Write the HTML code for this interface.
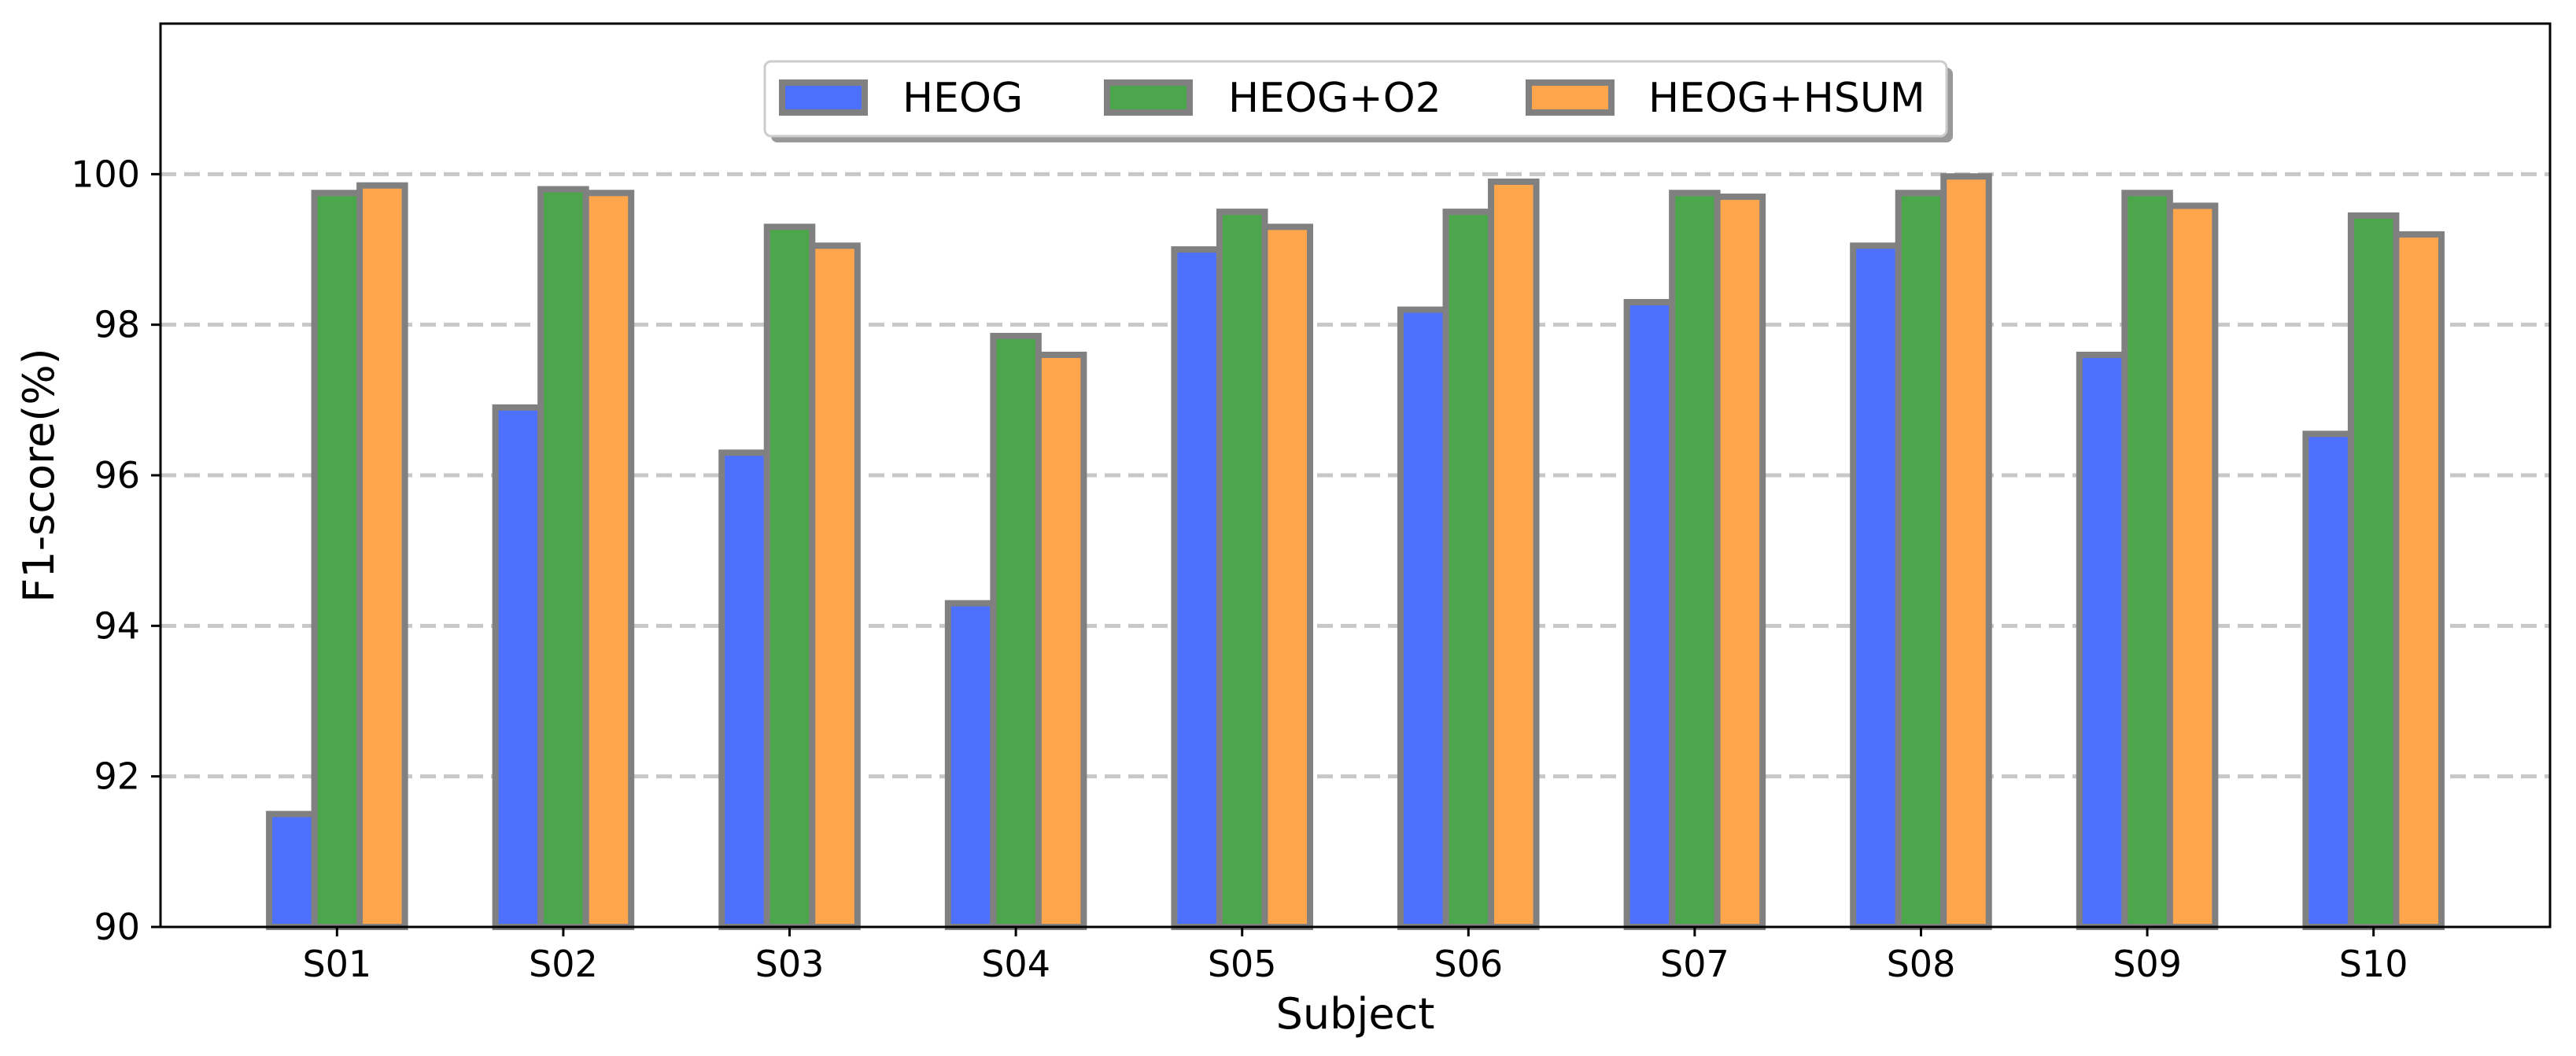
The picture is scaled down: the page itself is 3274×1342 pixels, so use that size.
<!DOCTYPE html>
<html><head><meta charset="utf-8"><style>
html,body{margin:0;padding:0;background:#fff;}
svg{display:block;font-family:"DejaVu Sans","Liberation Sans",sans-serif;}
</style></head><body>
<svg id="chart" width="3274" height="1342" viewBox="0 0 3274 1342" xmlns="http://www.w3.org/2000/svg">
<rect width="3274" height="1342" fill="#fff"/>
<g id="grid"></g>
<g id="bars"></g>
<g id="axes"></g>
<g id="legend"></g>
</svg>
<script>
const categories = ["S01","S02","S03","S04","S05","S06","S07","S08","S09","S10"];
const heog = [91.5, 96.9, 96.3, 94.3, 99.0, 98.2, 98.3, 99.05, 97.6, 96.55];
const heogO2 = [99.75, 99.8, 99.3, 97.85, 99.5, 99.5, 99.75, 99.75, 99.75, 99.45];
const heogHsum = [99.85, 99.75, 99.05, 97.6, 99.3, 99.9, 99.7, 99.97, 99.58, 99.2];
const yTicks = [90, 92, 94, 96, 98, 100];
const seriesNames = ["HEOG","HEOG+O2","HEOG+HSUM"];
const seriesColors = ["#4d70ff","#4ca64c","#ffa64d"];

const NS = "http://www.w3.org/2000/svg";
const L = 204, R = 3241, T = 30, B = 1178;
const xMin = -0.78, xMax = 9.78, yMin = 90, yMax = 102;
const xs = v => L + (v - xMin) / (xMax - xMin) * (R - L);
const ys = v => B - (v - yMin) / (yMax - yMin) * (B - T);
function mk(tag, attrs, parent) {
  const e = document.createElementNS(NS, tag);
  for (const k in attrs) e.setAttribute(k, attrs[k]);
  parent.appendChild(e);
  return e;
}
const grid = document.getElementById('grid');
const bars = document.getElementById('bars');
const axes = document.getElementById('axes');
const legend = document.getElementById('legend');

yTicks.forEach(t => {
  if (t === yMin) return;
  const g = mk('line', {x1: L, x2: R, y1: ys(t), y2: ys(t), stroke: '#c8c8c8', 'stroke-width': 5, 'stroke-dasharray': '20 10'}, grid);
  
  
});

const series = [heog, heogO2, heogHsum];
const bw = 0.2;
series.forEach((vals, si) => {
  vals.forEach((v, ci) => {
    const x0 = xs(ci + (si - 1) * bw - bw / 2);
    const x1 = xs(ci + (si - 1) * bw + bw / 2);
    const r = mk('rect', {x: x0, y: ys(v), width: x1 - x0, height: ys(yMin) - ys(v), fill: seriesColors[si], stroke: '#808080', 'stroke-width': 8}, bars);
    
    
  });
});

const frame = mk('rect', {x: L, y: T, width: R - L, height: B - T, fill: 'none', stroke: '#000', 'stroke-width': 3}, axes);



yTicks.forEach(t => {
  mk('line', {x1: L - 12, x2: L, y1: ys(t), y2: ys(t), stroke: '#000', 'stroke-width': 3}, axes);
  const tx = mk('text', {x: L - 26, y: ys(t) + 16, 'font-size': 46, 'text-anchor': 'end', fill: '#000'}, axes);
  tx.textContent = t;
  
  
});
categories.forEach((c, i) => {
  mk('line', {x1: xs(i), x2: xs(i), y1: B, y2: B + 12, stroke: '#000', 'stroke-width': 3}, axes);
  const tx = mk('text', {x: xs(i), y: 1241, 'font-size': 46, 'text-anchor': 'middle', fill: '#000'}, axes);
  tx.textContent = c;
  
  
});
const xl = mk('text', {x: (L + R) / 2, y: 1307, 'font-size': 54, 'text-anchor': 'middle', fill: '#000'}, axes);
xl.textContent = 'Subject';


const yl = mk('text', {x: 0, y: 0, 'font-size': 54, 'text-anchor': 'middle', fill: '#000', transform: 'translate(68,' + (T + B) / 2 + ') rotate(-90)'}, axes);
yl.textContent = 'F1-score(%)';



// legend
const sh = mk('rect', {x: 980, y: 86, width: 1502, height: 95, rx: 8, fill: '#999'}, legend);


const lb = mk('rect', {x: 972, y: 78, width: 1502, height: 95, rx: 8, fill: '#fff', stroke: '#cccccc', 'stroke-width': 3}, legend);


const patchX = [990, 1403, 1939];
const textX = [1147, 1561, 2095];
seriesNames.forEach((n, i) => {
  const p = mk('rect', {x: patchX[i] + 4, y: 105, width: 105, height: 38, fill: seriesColors[i], stroke: '#808080', 'stroke-width': 8}, legend);
  
  
  const t = mk('text', {x: textX[i], y: 142, 'font-size': 52, fill: '#000'}, legend);
  t.textContent = n;
  
  
});
</script>
</body></html>
